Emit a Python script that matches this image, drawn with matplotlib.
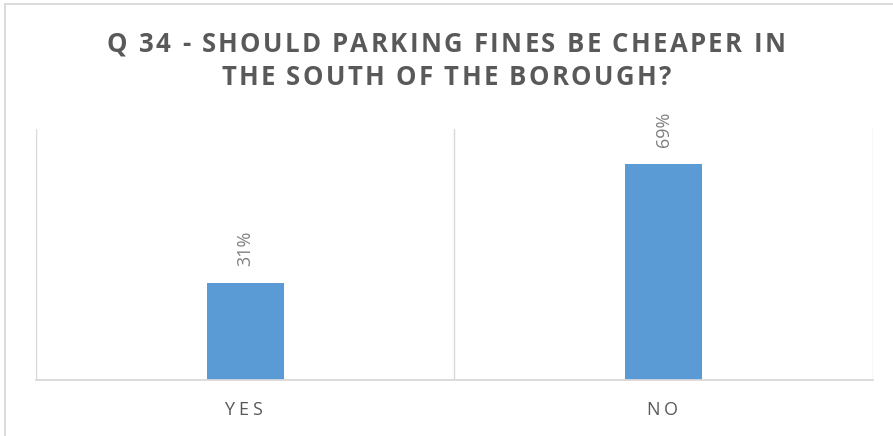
import matplotlib
matplotlib.use("Agg")
import matplotlib.pyplot as plt

categories = ["YES", "NO"]
values = [31, 69]
value_labels = ["31%", "69%"]
title_lines = ["Q 34 - SHOULD PARKING FINES BE CHEAPER IN",
               "THE SOUTH OF THE BOROUGH?"]

W, H = 893, 436
TEXT_GRAY = "#595959"
LABEL_GRAY = "#7f7f7f"
GRID = "#d9d9d9"
BAR = "#5b9bd5"


def spaced_text(fig, renderer, x, y, s, spacing, **kw):
    # x, y in display pixels; x is centre of the string, y is baseline
    widths = []
    for ch in s:
        t = fig.text(0, 0, ch, **kw)
        widths.append(t.get_window_extent(renderer).width)
        t.remove()
    total = sum(widths) + spacing * (len(s) - 1)
    cx = x - total / 2
    for ch, w in zip(s, widths):
        fig.text(cx / W, y / H, ch, ha="left", va="baseline", **kw)
        cx += w + spacing


fig = plt.figure(figsize=(W / 100, H / 100), dpi=100)
renderer = fig.canvas.get_renderer()

# light frame of the chart area (only left/top visible in the crop)
fig.add_artist(plt.Line2D([4.5 / W, 4.5 / W], [0, 1 - 4.5 / H], color=GRID, lw=1.3))
fig.add_artist(plt.Line2D([4.5 / W, 1], [1 - 4.5 / H, 1 - 4.5 / H], color=GRID, lw=1.3))

ax = fig.add_axes([36 / W, 1 - 380 / H, (873 - 36) / W, (380 - 129) / H])
x = list(range(len(categories)))
ax.bar(x, values, width=0.184, color=BAR, zorder=2)
ax.set_xlim(-0.5, len(categories) - 0.5)
ax.set_ylim(0, 80)
ax.set_yticks([])
ax.set_xticks([])
for b in [-0.5, 0.5, 1.5]:
    ax.axvline(b, color=GRID, lw=1.0, zorder=1)
for s in ["top", "left", "right"]:
    ax.spines[s].set_visible(False)
ax.spines["bottom"].set_color(GRID)
ax.spines["bottom"].set_linewidth(1.3)

for xi, v, lab in zip(x, values, value_labels):
    ax.annotate(lab, (xi, v), xytext=(0, 12), textcoords="offset points",
                rotation=90, ha="center", va="bottom", fontsize=13,
                color=LABEL_GRAY, family="Open Sans")

fig.canvas.draw()
for xi, cat in zip(x, categories):
    px, _ = ax.transData.transform((xi, 0))
    spaced_text(fig, renderer, px - 2, H - 415, cat, 4, fontsize=13,
                color=TEXT_GRAY, family="Open Sans")

spaced_text(fig, renderer, 446, H - 52, title_lines[0], 2.3, fontsize=18.5,
            color=TEXT_GRAY, family="Open Sans", fontweight="bold")
spaced_text(fig, renderer, 446, H - 85, title_lines[1], 2.3, fontsize=18.5,
            color=TEXT_GRAY, family="Open Sans", fontweight="bold")

fig.savefig("out.png", dpi=100)
